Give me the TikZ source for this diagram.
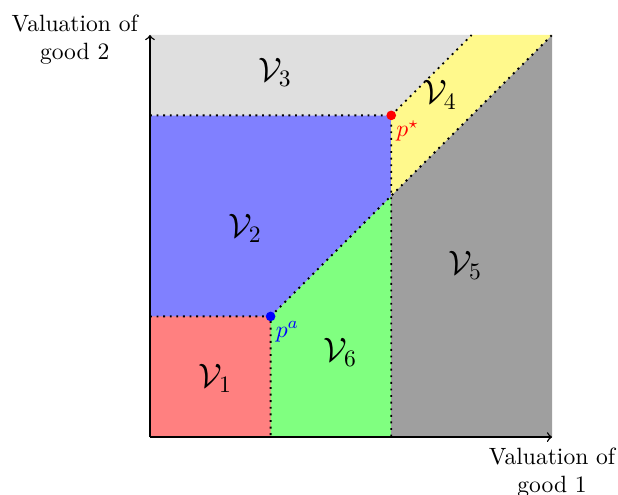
\documentclass[tikz,border=0pt]{standalone}
\usepackage{amsmath}
\usepackage{xcolor}
\usepackage{tikz}

\begin{document}
\begin{tikzpicture}[scale=0.6]
    \useasboundingbox (-3.73,-1.44) rectangle (11.64,10.87);
    \coordinate (pa) at (3,3);
    \coordinate (ps) at (6,8);
    \coordinate (mid) at (6,6);
    \coordinate (top) at (8,10);
    \coordinate (corner) at (10,10);
    \fill[red!50] (0,0) rectangle (pa);
    \fill[green!50] (3,0) -- (6,0) -- (mid) -- (pa) -- cycle;
    \fill[blue!50] (0,3) -- (pa) -- (mid) -- (ps) -- (0,8) -- cycle;
    \fill[gray!25] (0,8) -- (ps) -- (top) -- (0,10) -- cycle;
    \fill[yellow!45] (mid) -- (ps) -- (top) -- (corner) -- cycle;
    \fill[gray!75] (6,0) -- (10,0) -- (corner) -- (mid) -- cycle;
    \draw[thick, dotted] (0,3) -- (pa) -- (3,0);
    \draw[thick, dotted] (pa) -- (mid) -- (corner);
    \draw[thick, dotted] (0,8) -- (ps) -- (6,0);
    \draw[thick, dotted] (ps) -- (top);
    \draw[->, semithick] (0,0) -- (10,0) node[below, align=center, yshift=-1pt] {Valuation of\\good 1};
    \draw[->, semithick] (0,0) -- (0,10) node[left, align=center, xshift=-1.5pt, yshift=-2pt] {Valuation of\\good 2};
    \fill[blue] (pa) circle (0.12);
    \fill[red] (ps) circle (0.12);
    \node[blue, below right, inner sep=2pt] at (pa) {$p^a$};
    \node[red, below right, inner sep=2pt] at (ps) {$p^\star$};
    \node at (1.62,1.47) {\Large $\mathcal{V}_1$};
    \node at (2.36,5.20) {\Large $\mathcal{V}_2$};
    \node at (3.11,9.08) {\Large $\mathcal{V}_3$};
    \node at (7.21,8.51) {\Large $\mathcal{V}_4$};
    \node at (7.84,4.28) {\Large $\mathcal{V}_5$};
    \node at (4.73,2.11) {\Large $\mathcal{V}_6$};
\end{tikzpicture}
\end{document}
